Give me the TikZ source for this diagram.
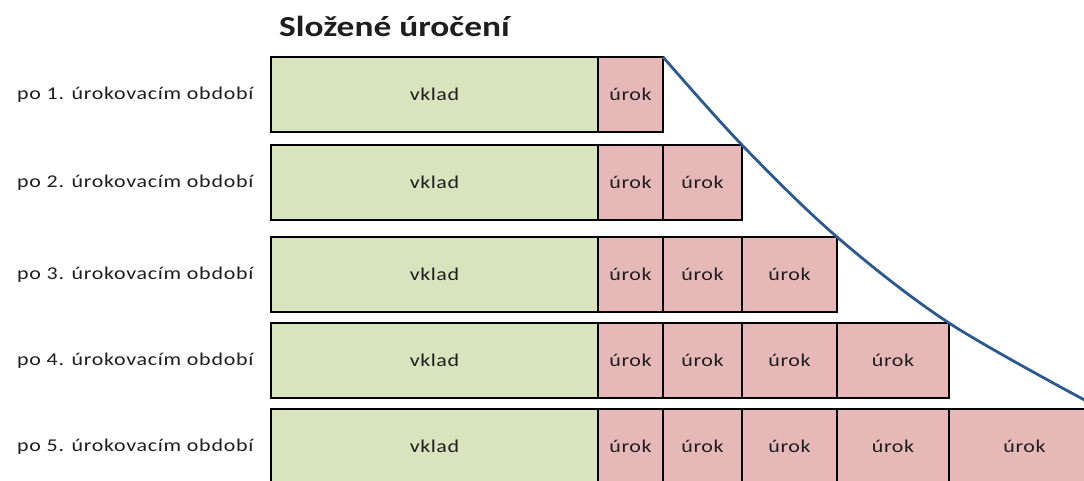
\documentclass[tikz,border=0pt]{standalone}
\usepackage{fontspec}
\setmainfont{Carlito}[FakeStretch=1.22]
\definecolor{vkladfill}{HTML}{D7E4BD}
\definecolor{urokfill}{HTML}{E6B9B8}
\definecolor{curveblue}{HTML}{2A5A8F}
\definecolor{txt}{HTML}{1E1E1E}
\begin{document}
\begin{tikzpicture}[x=1bp,y=-1bp,
  boxbase/.style={draw=black, line width=1.9bp, inner sep=0pt, outer sep=0pt, anchor=north west,
    minimum height=75bp, font=\fontsize{18bp}{21bp}\selectfont\addfontfeatures{LetterSpace=3}, text=txt},
  vkladbox/.style={boxbase, fill=vkladfill, minimum width=327bp},
  urokbox/.style={boxbase, fill=urokfill},
  rowlabel/.style={anchor=west, inner sep=0pt, text=txt, font=\fontsize{18bp}{21bp}\selectfont\addfontfeatures{LetterSpace=4}},
  titlestyle/.style={anchor=base west, inner sep=0pt, text=txt, font=\fontsize{29bp}{33bp}\selectfont\bfseries},
  curvestyle/.style={draw=curveblue, line width=2.8bp}
]
\useasboundingbox (0,0) rectangle (1084,481);
\clip (0,0) rectangle (1084,481);
\fill[white] (0,0) rectangle (1084,481);

\node[titlestyle] (title) at (279,37) {Složené úročení};

\def\rowtops{{57,145,237,323,409}}
\def\ux{{598,663,742,837,949,1100}}
\foreach \r in {1,...,5} {
  \pgfmathsetmacro{\yt}{\rowtops[\r-1]}
  \node[vkladbox] (v\r) at (271,\yt) {vklad};
  \node[rowlabel] (l\r) at (17,\yt+38) {po \r. úrokovacím období};
  \foreach \k in {1,...,\r} {
    \pgfmathsetmacro{\xa}{\ux[\k-1]}
    \pgfmathsetmacro{\xb}{\ux[\k]}
    \pgfmathsetmacro{\w}{\xb-\xa}
    \node[urokbox, minimum width=\w bp] (u\r\k) at (\xa,\yt) {úrok};
  }
}

\coordinate (cend) at (1092,404);
\draw[curvestyle] plot[smooth, tension=0.55] coordinates {(u11.north east) (u22.north east) (u33.north east) (u44.north east) (cend)};
\end{tikzpicture}
\end{document}
